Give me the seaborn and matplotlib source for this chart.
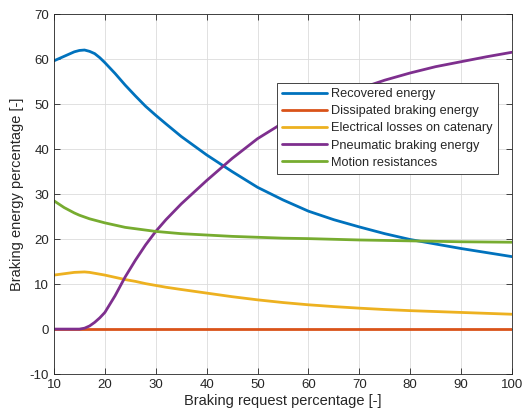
import numpy as np
import pandas as pd
import matplotlib
matplotlib.use("Agg")
import matplotlib.pyplot as plt
import seaborn as sns

x = [10, 12, 14, 15, 16, 17, 18, 19, 20, 22, 24, 26, 28, 30, 32, 35, 40, 45, 50,
     55, 60, 65, 70, 75, 80, 85, 90, 95, 100]
recovered = [59.6, 60.6, 61.6, 61.9, 62.0, 61.7, 61.2, 60.3, 59.2, 56.8, 54.2, 51.8,
             49.5, 47.5, 45.6, 42.8, 38.7, 35.0, 31.5, 28.7, 26.2, 24.3, 22.7, 21.2,
             19.9, 18.9, 17.9, 17.0, 16.1]
dissipated = [0.0] * len(x)
electrical = [12.0, 12.3, 12.6, 12.65, 12.7, 12.6, 12.4, 12.2, 12.0, 11.5, 11.0, 10.6,
              10.1, 9.7, 9.3, 8.8, 8.0, 7.2, 6.5, 5.9, 5.4, 5.0, 4.65, 4.35, 4.1, 3.9,
              3.7, 3.5, 3.3]
pneumatic = [0.0, 0.0, 0.0, 0.0, 0.2, 0.7, 1.5, 2.5, 3.7, 7.4, 11.6, 15.3, 18.7, 21.7,
             24.3, 27.8, 33.0, 37.9, 42.3, 45.8, 48.8, 51.3, 53.4, 55.3, 56.9, 58.3,
             59.4, 60.5, 61.5]
motion = [28.5, 27.0, 25.8, 25.3, 24.9, 24.5, 24.2, 23.9, 23.6, 23.1, 22.6, 22.3, 22.0,
          21.7, 21.5, 21.2, 20.9, 20.6, 20.4, 20.2, 20.1, 19.95, 19.8, 19.7, 19.6,
          19.5, 19.4, 19.35, 19.3]

names = ["Recovered energy", "Dissipated braking energy", "Electrical losses on catenary",
         "Pneumatic braking energy", "Motion resistances"]
series = [recovered, dissipated, electrical, pneumatic, motion]
colors = ["#0072BD", "#D95319", "#EDB120", "#7E2F8E", "#77AC30"]

df = pd.concat([pd.DataFrame({"x": x, "y": s, "series": n}) for n, s in zip(names, series)],
               ignore_index=True)

sns.set_style("white")
plt.rcParams["font.family"] = ["Liberation Sans", "DejaVu Sans"]
plt.rcParams["axes.unicode_minus"] = False

fig = plt.figure(figsize=(5.24, 4.18), dpi=100)
ax = fig.add_axes([0.103, 0.105, 0.874, 0.8615])

sns.lineplot(data=df, x="x", y="y", hue="series", hue_order=names,
             palette=dict(zip(names, colors)), linewidth=2.0, ax=ax, sort=True)

ax.set_xlim(10, 100)
ax.set_ylim(-10, 70)
ax.set_xticks(np.arange(10, 101, 10))
ax.set_yticks(np.arange(-10, 71, 10))
ax.grid(True, color="#dcdcdc", linewidth=0.6)
ax.set_axisbelow(True)
for sp in ax.spines.values():
    sp.set_color("#262626")
    sp.set_linewidth(0.6)
ax.tick_params(direction="in", length=4, width=0.6, colors="#262626",
               labelsize=9.5, top=True, right=True, bottom=True, left=True,
               labelcolor="#262626")
ax.set_xlabel("Braking request percentage [-]", fontsize=10.5, color="#262626", labelpad=2)
ax.set_ylabel("Braking energy percentage [-]", fontsize=10.5, color="#262626", labelpad=4)

leg = ax.legend(loc="upper left", bbox_to_anchor=(0.487, 0.808), fontsize=9.2,
                frameon=True, fancybox=False, edgecolor="#262626", framealpha=1,
                handlelength=3.5, handletextpad=0.35, borderpad=0.4, labelspacing=0.4,
                borderaxespad=0)
leg.get_frame().set_linewidth(0.6)

fig.savefig("out.png", dpi=100)
